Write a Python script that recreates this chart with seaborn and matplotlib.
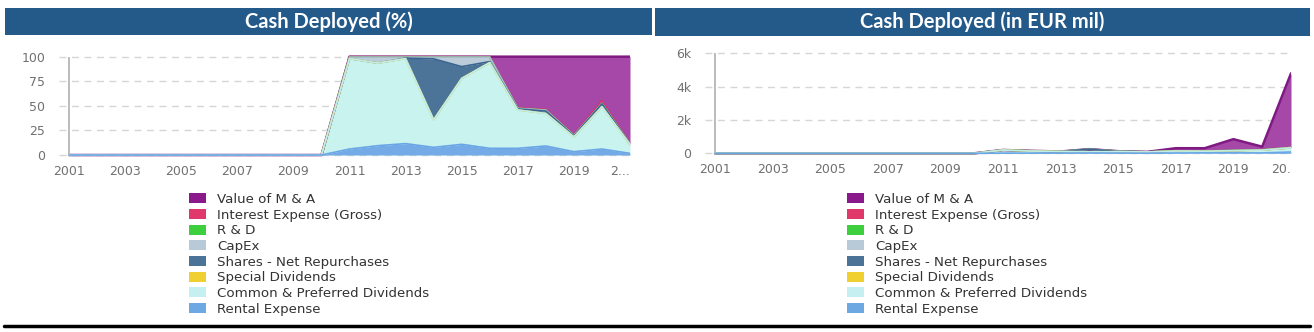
import matplotlib
matplotlib.use("Agg")
import matplotlib.pyplot as plt
from matplotlib.patches import Rectangle, Patch
from matplotlib.lines import Line2D
import numpy as np
import pandas as pd
import seaborn as sns

# ---------------------------------------------------------------- data
years = [2001, 2002, 2003, 2004, 2005, 2006, 2007, 2008, 2009, 2010,
         2011, 2012, 2013, 2014, 2015, 2016, 2017, 2018, 2019, 2020, 2021]

series_names = ["Value of M & A", "Interest Expense (Gross)", "R & D", "CapEx",
                "Shares - Net Repurchases", "Special Dividends",
                "Common & Preferred Dividends", "Rental Expense"]

# share of total cash deployed, %
pct_mna      = [0, 0, 0, 0, 0, 0, 0, 0, 0, 0, 0, 0, 0, 0, 0, 0, 52.0, 53.5, 79.2, 45.0, 88.5]
pct_interest = [0, 0, 0, 0, 0, 0, 0, 0, 0, 0, 0.5, 0.5, 0.5, 0.5, 0.5, 0.5, 0.5, 0.8, 0.8, 2.4, 0.3]
pct_rnd      = [0, 0, 0, 0, 0, 0, 0, 0, 0, 0, 0, 0, 0, 0, 0, 0, 0, 0, 0, 0, 0]
pct_capex    = [0, 0, 0, 0, 0, 0, 0, 0, 0, 0, 1.4, 6.0, 1.0, 1.7, 9.6, 4.5, 0.7, 1.0, 0.6, 0.5, 0.5]
pct_shares   = [0, 0, 0, 0, 0, 0, 0, 0, 0, 0, 0, 0, 0.5, 62.0, 12.0, 1.0, 1.0, 2.5, 1.0, 3.0, 0]
pct_special  = [0, 0, 0, 0, 0, 0, 0, 0, 0, 0, 0, 0, 0, 0, 0, 0, 0, 0, 0, 0, 0]
pct_common   = [0, 0, 0, 0, 0, 0, 0, 0, 0, 0, 92.0, 84.0, 86.4, 28.0, 67.0, 87.2, 39.0, 33.0, 15.0, 43.0, 9.0]
pct_rental   = [0, 0, 0, 0, 0, 0, 0, 0, 0, 0, 6.1, 9.5, 11.6, 7.8, 10.9, 6.8, 6.8, 9.2, 3.4, 6.1, 1.7]

# cash deployed, EUR mil
eur_mna      = [0, 0, 0, 0, 0, 0, 0, 0, 0, 0, 0, 0, 0, 0, 0, 0, 160, 165, 670, 180, 4430]
eur_interest = [0, 0, 0, 0, 0, 0, 0, 0, 0, 0, 1, 1, 1, 1, 1, 1, 2, 2, 7, 10, 15]
eur_rnd      = [0, 0, 0, 0, 0, 0, 0, 0, 0, 0, 0, 0, 0, 0, 0, 0, 0, 0, 0, 0, 0]
eur_capex    = [0, 0, 0, 0, 0, 0, 0, 0, 0, 0, 3, 9, 1, 4, 12, 4, 2, 3, 5, 2, 20]
eur_shares   = [0, 0, 0, 0, 0, 0, 0, 0, 0, 0, 0, 0, 1, 155, 15, 1, 3, 8, 8, 12, 0]
eur_special  = [0, 0, 0, 0, 0, 0, 0, 0, 0, 0, 0, 0, 0, 0, 0, 0, 0, 0, 0, 0, 0]
eur_common   = [0, 0, 0, 0, 0, 0, 0, 0, 0, 0, 185, 125, 95, 70, 85, 75, 120, 100, 130, 170, 250]
eur_rental   = [0, 0, 0, 0, 0, 0, 0, 0, 0, 0, 12, 14, 13, 20, 14, 6, 20, 28, 29, 24, 80]

pct_ticks = [0, 25, 50, 75, 100]
pct_tick_labels = ["0", "25", "50", "75", "100"]
eur_ticks = [0, 2000, 4000, 6000]
eur_tick_labels = ["0", "2k", "4k", "6k"]

year_ticks = [2001, 2003, 2005, 2007, 2009, 2011, 2013, 2015, 2017, 2019, 2021]
year_labels_pct = ["2001", "2003", "2005", "2007", "2009", "2011", "2013",
                   "2015", "2017", "2019", "2..."]
year_labels_eur = ["2001", "2003", "2005", "2007", "2009", "2011", "2013",
                   "2015", "2017", "2019", "20."]

# ---------------------------------------------------------------- style
legend_colors = ["#8a1a8c", "#e0386a", "#3ecf3e", "#b8cad8",
                 "#4b7398", "#f0d030", "#c6eff2", "#6ea8e2"]
fill_colors = ["#a548a7", "#e04a78", "#52d252", "#bccdd9",
               "#4c7499", "#f3d84a", "#c9f3ef", "#74abe6"]
line_colors = ["#7e1a82", "#d8306a", "#3cc83c", "#a9bccb",
               "#3b6590", "#efcf2f", "#bfeeea", "#6aa6e6"]

sns.set_theme(style="white")
plt.rcParams["font.family"] = ["DejaVu Sans"]

W, H = 1314, 332
fig = plt.figure(figsize=(W / 100, H / 100), dpi=100)


def px_axes(x0, x1, ytop, ybot):
    return fig.add_axes([x0 / W, 1 - ybot / H, (x1 - x0) / W, (ybot - ytop) / H])


def stacked_area(ax, frame, ymax):
    # stack from the last legend entry upwards
    order = list(reversed(series_names))
    base = np.zeros(len(frame))
    tops = {}
    for name in order:
        top = base + frame[name].to_numpy()
        i = series_names.index(name)
        ax.fill_between(frame["year"], base, top, color=fill_colors[i], lw=0, zorder=2)
        tops[name] = top
        base = top
    # outlines: later legend entries are drawn above earlier ones
    for i, name in enumerate(series_names):
        sns.lineplot(x=frame["year"], y=tops[name], color=line_colors[i],
                     lw=1.8 if i == 0 else 1.2, ax=ax, zorder=3 + i * 0.01)
    ax.vlines(frame["year"].iloc[0], 0, ymax, color="#b5b5b5", lw=1.3, zorder=4)


def style_axes(ax, yticks, ylabels, xlabels, ylim, xlim):
    ax.set_xlim(*xlim)
    ax.set_ylim(*ylim)
    ax.set_yticks(yticks)
    ax.set_yticklabels(ylabels)
    ax.set_xticks(year_ticks)
    ax.set_xticklabels(xlabels)
    ax.xaxis.get_ticklabels()[-1].set_horizontalalignment("right")
    ax.set_xlabel("")
    ax.set_ylabel("")
    for s in ax.spines.values():
        s.set_visible(False)
    ax.grid(axis="y", color="#d6d6d6", ls=(0, (5, 4)), lw=1.0, zorder=0)
    ax.grid(axis="x", visible=False)
    ax.tick_params(axis="both", length=0, labelsize=9, labelcolor="#707070")
    ax.tick_params(axis="y", pad=10)
    ax.tick_params(axis="x", pad=6)
    ax.set_facecolor("none")


pct_df = pd.DataFrame({"year": years,
                       series_names[0]: pct_mna, series_names[1]: pct_interest,
                       series_names[2]: pct_rnd, series_names[3]: pct_capex,
                       series_names[4]: pct_shares, series_names[5]: pct_special,
                       series_names[6]: pct_common, series_names[7]: pct_rental})
eur_df = pd.DataFrame({"year": years,
                       series_names[0]: eur_mna, series_names[1]: eur_interest,
                       series_names[2]: eur_rnd, series_names[3]: eur_capex,
                       series_names[4]: eur_shares, series_names[5]: eur_special,
                       series_names[6]: eur_common, series_names[7]: eur_rental})

# left: percentage view
ax1 = px_axes(59, 630, 55.2, 156.5)
stacked_area(ax1, pct_df, pct_ticks[-1])
style_axes(ax1, pct_ticks, pct_tick_labels, year_labels_pct,
           (-1.5, 101.5), (2001 - 10 / 27.95, 2021))

# right: absolute view
ax2 = px_axes(705, 1291, 51.6, 155.0)
stacked_area(ax2, eur_df, eur_ticks[-1])
style_axes(ax2, eur_ticks, eur_tick_labels, year_labels_eur,
           (-100, 6100), (2001 - 10 / 28.75, 2021))

# title bars
def title_bar(x0, x1, y0, y1, text):
    fig.add_artist(Rectangle((x0 / W, 1 - y1 / H), (x1 - x0) / W, (y1 - y0) / H,
                             transform=fig.transFigure, facecolor="#245a8a",
                             edgecolor="none"))
    fig.text((x0 + x1) / 2 / W, 1 - (y0 + y1) / 2 / H, text, color="white",
             fontsize=14.5, fontweight="bold", family=["Lato", "DejaVu Sans"],
             ha="center", va="center")

title_bar(5, 652, 8, 35, "Cash Deployed (%)")
title_bar(655, 1310, 8, 36, "Cash Deployed (in EUR mil)")

# legends
handles = [Patch(facecolor=c, edgecolor="none") for c in legend_colors]
for x0 in (189, 847):
    fig.legend(handles, series_names, loc="upper left",
               bbox_to_anchor=(x0 / W, 1 - 193 / H), frameon=False,
               fontsize=9.6, handlelength=1.25, handleheight=0.75,
               handletextpad=0.85, labelspacing=0.2, borderpad=0,
               borderaxespad=0, labelcolor="#333333")

# bottom rule
fig.add_artist(Line2D([4 / W, 1310 / W], [1 - 326 / H, 1 - 326 / H],
                      transform=fig.transFigure, color="black", lw=2.5))

fig.savefig("out.png", dpi=100, facecolor="white")
